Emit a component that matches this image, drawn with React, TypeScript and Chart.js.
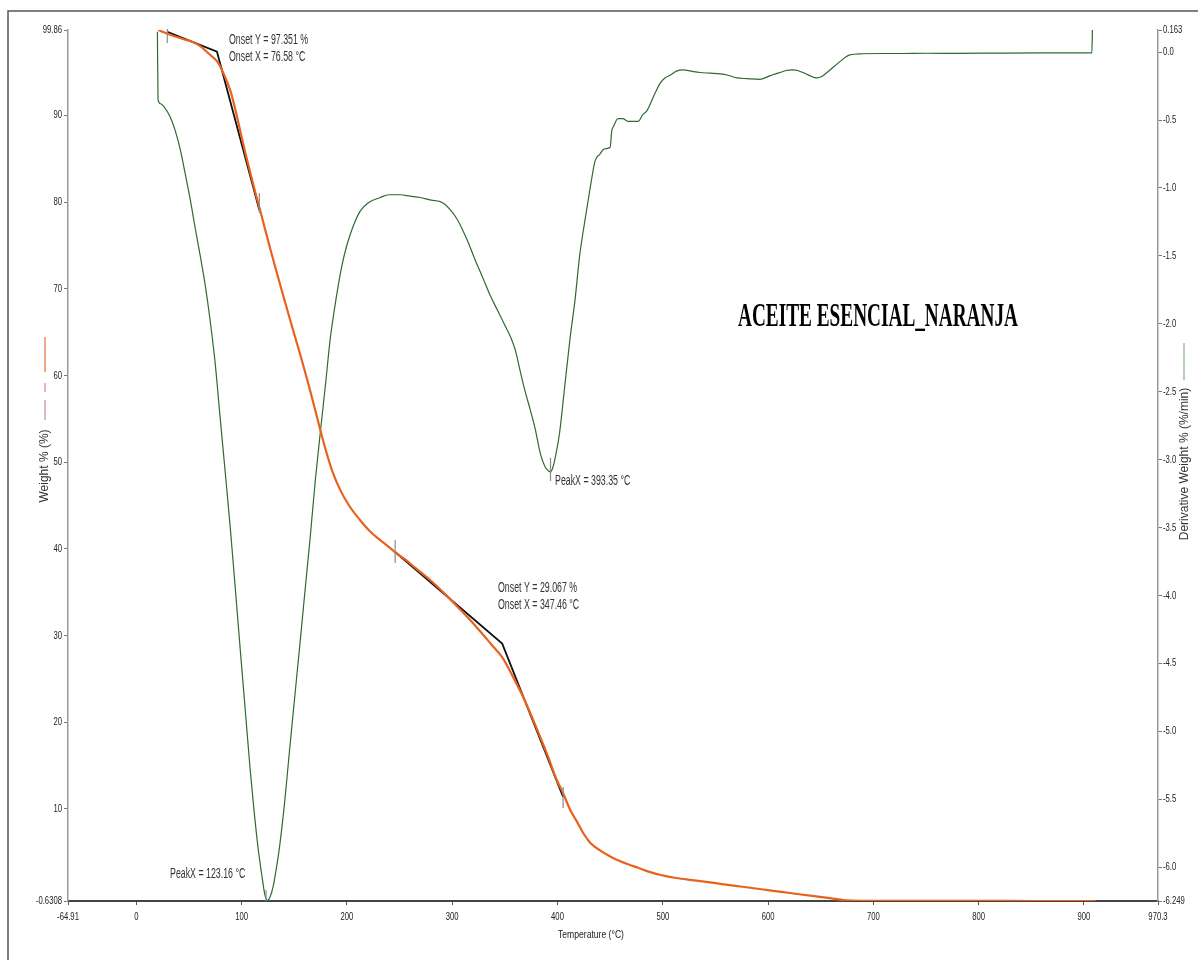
import { useEffect, useRef } from 'react';
import { Chart, registerables } from 'chart.js';

Chart.register(...registerables);

// ---- Data ----
const weightTemp = [20.9, 26, 35, 45, 55, 60.7, 68, 76.9, 83, 89.2, 94, 98.7, 103.5, 108.2, 113, 117.7, 122, 127.2, 134, 141.4, 148, 155.7, 163, 169.9, 175, 179.4, 186, 193.6, 202, 212.6, 222, 231.6, 240, 245.8, 255, 265, 279, 293, 307.5, 317, 326.5, 337, 347.4, 357, 367.4, 375, 383.5, 392, 398, 405.3, 412, 418.6, 425, 431, 440.4, 450, 458.5, 467, 476.5, 488, 498, 512.6, 530, 548.6, 567, 584.7, 603, 620.8, 640, 656.9, 665, 671, 680, 700, 750, 808, 850, 911];
const weightPct = [99.86, 99.6, 99.2, 98.8, 98.4, 98.0, 97.2, 96.2, 94.8, 92.9, 90.7, 88.2, 85.7, 83.4, 81.1, 79.0, 77.0, 74.6, 71.6, 68.4, 65.6, 62.4, 59.2, 56.0, 53.6, 51.6, 49.0, 46.8, 45.0, 43.3, 42.0, 41.0, 40.2, 39.6, 38.8, 37.8, 36.4, 34.8, 33.0, 31.8, 30.5, 29.0, 27.5, 25.4, 22.9, 20.8, 18.3, 15.7, 13.7, 11.8, 9.9, 8.5, 7.1, 6.1, 5.2, 4.5, 4.0, 3.6, 3.2, 2.7, 2.37, 2.02, 1.75, 1.45, 1.15, 0.87, 0.57, 0.29, -0.02, -0.28, -0.42, -0.52, -0.58, -0.6, -0.6, -0.6, -0.63, -0.63];

const derivTemp = [20.0, 20.6, 23.0, 26.0, 32.3, 37, 41.8, 46, 51.3, 56, 60.7, 65.5, 70, 75, 79.7, 84.5, 89.2, 94, 98.7, 103.5, 108.2, 112, 115.8, 119, 122, 124.5, 127, 130, 132.5, 136, 141, 145, 150, 155.7, 160, 165, 170, 175, 180, 184, 190, 195, 200, 206, 212.6, 220, 231.6, 240, 250.6, 260, 269.6, 280, 288.5, 293, 298, 303, 307.5, 314, 321.8, 329, 336, 343, 350, 355, 359.8, 364, 369, 374, 379, 383.5, 388, 391, 393.35, 395.5, 398, 402, 407, 412, 416.7, 421, 426, 431, 435.7, 440.4, 443, 446, 450, 451.5, 453, 457.5, 462, 467, 476.5, 481, 485, 491, 497.4, 502, 506.9, 513, 519.2, 527, 535.4, 545, 554.3, 562, 570.5, 580, 592.3, 599.9, 605, 611.3, 617, 623.6, 628, 633.1, 640, 646.4, 651, 655.9, 662, 668.2, 673, 677.7, 690, 706.2, 725, 750, 780, 820, 860, 907.5, 908];
const derivVal = [0.15, -0.35, -0.38, -0.40, -0.48, -0.58, -0.72, -0.88, -1.09, -1.30, -1.50, -1.72, -1.97, -2.30, -2.70, -3.10, -3.50, -3.95, -4.40, -4.85, -5.29, -5.60, -5.87, -6.05, -6.20, -6.245, -6.22, -6.14, -6.03, -5.85, -5.51, -5.18, -4.78, -4.33, -3.98, -3.58, -3.15, -2.78, -2.42, -2.12, -1.80, -1.58, -1.42, -1.28, -1.17, -1.11, -1.07, -1.05, -1.05, -1.06, -1.07, -1.09, -1.10, -1.12, -1.16, -1.21, -1.27, -1.38, -1.53, -1.66, -1.79, -1.90, -2.01, -2.09, -2.19, -2.33, -2.49, -2.63, -2.78, -2.95, -3.05, -3.08, -3.09, -3.06, -2.98, -2.80, -2.45, -2.10, -1.82, -1.50, -1.24, -1.00, -0.80, -0.75, -0.72, -0.71, -0.70, -0.58, -0.55, -0.49, -0.49, -0.51, -0.51, -0.46, -0.43, -0.33, -0.23, -0.19, -0.17, -0.14, -0.13, -0.14, -0.15, -0.155, -0.16, -0.17, -0.19, -0.195, -0.20, -0.18, -0.165, -0.15, -0.135, -0.13, -0.135, -0.15, -0.175, -0.19, -0.18, -0.15, -0.11, -0.07, -0.04, -0.02, -0.012, -0.01, -0.01, -0.008, -0.009, -0.007, -0.006, -0.006, 0.163];

const onset1Temp = [29.4, 76.58, 116.8];
const onset1Wt = [99.64, 97.351, 79.1];
const onset2Temp = [245.8, 347.46, 405.3];
const onset2Wt = [39.64, 29.067, 11.37];
const peakTemp = [123.16, 393.35];
const peakDeriv = [-6.249, -3.09];

const xTicks = [-64.91, 0, 100, 200, 300, 400, 500, 600, 700, 800, 900, 970.3];
const xTickLabels = ['-64.91', '0', '100', '200', '300', '400', '500', '600', '700', '800', '900', '970.3'];
const yTicks = [-0.6308, 10, 20, 30, 40, 50, 60, 70, 80, 90, 99.86];
const yTickLabels = ['-0.6308', '10', '20', '30', '40', '50', '60', '70', '80', '90', '99.86'];
const y2Ticks = [-6.249, -6.0, -5.5, -5.0, -4.5, -4.0, -3.5, -3.0, -2.5, -2.0, -1.5, -1.0, -0.5, 0.0, 0.163];
const y2TickLabels = ['-6.249', '-6.0', '-5.5', '-5.0', '-4.5', '-4.0', '-3.5', '-3.0', '-2.5', '-2.0', '-1.5', '-1.0', '-0.5', '0.0', '0.163'];

const chartTitle = 'ACEITE ESENCIAL_NARANJA';
const xTitle = 'Temperature (°C)';
const yTitle = 'Weight % (%)';
const y2Title = 'Derivative Weight % (%/min)';

const ORANGE = '#E8621E';
const GREEN = '#2f6a2f';

const toPts = (xs: number[], ys: number[]) => xs.map((x, i) => ({ x, y: ys[i] }));

function drawText(
  ctx: CanvasRenderingContext2D,
  s: string,
  x: number,
  y: number,
  font: string,
  sx: number,
  align: 'left' | 'right' | 'center',
  color: string
) {
  ctx.save();
  ctx.font = font;
  ctx.fillStyle = color;
  ctx.textBaseline = 'middle';
  ctx.textAlign = 'left';
  const w = ctx.measureText(s).width * sx;
  const left = align === 'left' ? x : align === 'right' ? x - w : x - w / 2;
  ctx.translate(left, y);
  ctx.scale(sx, 1);
  ctx.fillText(s, 0, 0);
  ctx.restore();
}

const overlayPlugin = {
  id: 'overlay',
  afterDraw(chart: any) {
    const ctx: CanvasRenderingContext2D = chart.ctx;
    const xs = chart.scales.x;
    const ys = chart.scales.y;
    const y2s = chart.scales.y2;
    const tickFont = '11px "Liberation Sans", Arial, sans-serif';
    const tickSX = 0.7;
    const tickColor = '#222';

    // outer frame (left + top)
    ctx.save();
    ctx.strokeStyle = '#555';
    ctx.lineWidth = 1.5;
    ctx.beginPath();
    ctx.moveTo(8, 970);
    ctx.lineTo(8, 11);
    ctx.lineTo(1210, 11);
    ctx.stroke();
    ctx.restore();

    // tick labels
    yTicks.forEach((v, i) => {
      drawText(ctx, yTickLabels[i], 62, ys.getPixelForValue(v), tickFont, tickSX, 'right', tickColor);
    });
    y2Ticks.forEach((v, i) => {
      drawText(ctx, y2TickLabels[i], 1163, y2s.getPixelForValue(v), tickFont, tickSX, 'left', tickColor);
    });
    xTicks.forEach((v, i) => {
      drawText(ctx, xTickLabels[i], xs.getPixelForValue(v), 917, tickFont, tickSX, 'center', tickColor);
    });

    // axis titles
    drawText(ctx, xTitle, 591, 935, '11px "Liberation Sans", Arial, sans-serif', 0.78, 'center', '#222');
    ctx.save();
    ctx.translate(45, 466);
    ctx.rotate(-Math.PI / 2);
    drawText(ctx, yTitle, 0, 0, '12px "Liberation Sans", Arial, sans-serif', 1, 'center', '#333');
    ctx.restore();
    ctx.save();
    ctx.translate(1185, 464);
    ctx.rotate(-Math.PI / 2);
    drawText(ctx, y2Title, 0, 0, '12px "Liberation Sans", Arial, sans-serif', 1, 'center', '#333');
    ctx.restore();

    // legend marks
    ctx.save();
    ctx.lineWidth = 1.5;
    ctx.strokeStyle = '#ea8a5c';
    ctx.beginPath();
    ctx.moveTo(45, 337);
    ctx.lineTo(45, 372);
    ctx.stroke();
    ctx.strokeStyle = '#d9a3a8';
    ctx.beginPath();
    ctx.moveTo(45, 383);
    ctx.lineTo(45, 392);
    ctx.moveTo(45, 400);
    ctx.lineTo(45, 420);
    ctx.stroke();
    ctx.strokeStyle = '#97c197';
    ctx.beginPath();
    ctx.moveTo(1184, 343);
    ctx.lineTo(1184, 380);
    ctx.stroke();
    ctx.restore();

    // marker ticks on onset / peak points
    const marks: [number, number, number, number][] = [
      [xs.getPixelForValue(onset1Temp[0]), ys.getPixelForValue(onset1Wt[0]), 3, 11],
      [xs.getPixelForValue(onset1Temp[2]), ys.getPixelForValue(onset1Wt[2]), 17, 3],
      [xs.getPixelForValue(onset2Temp[0]), ys.getPixelForValue(onset2Wt[0]), 12, 11],
      [xs.getPixelForValue(onset2Temp[2]), ys.getPixelForValue(onset2Wt[2]), 10, 11],
      [xs.getPixelForValue(peakTemp[0]), y2s.getPixelForValue(peakDeriv[0]), 11, 0],
      [xs.getPixelForValue(peakTemp[1]), y2s.getPixelForValue(peakDeriv[1]), 14, 9],
    ];
    ctx.save();
    ctx.strokeStyle = '#8a8a8a';
    ctx.lineWidth = 1.2;
    marks.forEach(([px, py, up, down]) => {
      ctx.beginPath();
      ctx.moveTo(px, py - up);
      ctx.lineTo(px, py + down);
      ctx.stroke();
    });
    ctx.restore();

    // annotations
    const aFont = '14px "Liberation Sans", Arial, sans-serif';
    const aSX = 0.63;
    const aCol = '#333';
    drawText(ctx, `Onset Y = ${onset1Wt[1].toFixed(3)} %`, 229, 40, aFont, aSX, 'left', aCol);
    drawText(ctx, `Onset X = ${onset1Temp[1].toFixed(2)} °C`, 229, 57, aFont, aSX, 'left', aCol);
    drawText(ctx, `Onset Y = ${onset2Wt[1].toFixed(3)} %`, 498, 588, aFont, aSX, 'left', aCol);
    drawText(ctx, `Onset X = ${onset2Temp[1].toFixed(2)} °C`, 498, 605, aFont, aSX, 'left', aCol);
    drawText(ctx, `PeakX = ${peakTemp[1].toFixed(2)} °C`, 555, 481, aFont, aSX, 'left', aCol);
    drawText(ctx, `PeakX = ${peakTemp[0].toFixed(2)} °C`, 170, 874, aFont, aSX, 'left', aCol);

    // title
    ctx.save();
    ctx.font = 'bold 33px "Liberation Serif", "Times New Roman", serif';
    const tw = ctx.measureText(chartTitle).width;
    ctx.fillStyle = '#000';
    ctx.textBaseline = 'alphabetic';
    ctx.translate(738, 326);
    ctx.scale(280 / tw, 1);
    ctx.fillText(chartTitle, 0, 0);
    ctx.restore();
  },
};

export default function App() {
  const canvasRef = useRef<HTMLCanvasElement | null>(null);

  useEffect(() => {
    const canvas = canvasRef.current;
    if (!canvas) return;
    const chart = new Chart(canvas, {
      type: 'line',
      data: {
        datasets: [
          {
            label: 'Weight %',
            data: toPts(weightTemp, weightPct),
            yAxisID: 'y',
            borderColor: ORANGE,
            borderWidth: 2.2,
            pointRadius: 0,
            cubicInterpolationMode: 'monotone',
            fill: false,
          },
          {
            label: 'Derivative Weight %',
            data: toPts(derivTemp, derivVal),
            yAxisID: 'y2',
            borderColor: GREEN,
            borderWidth: 1.2,
            pointRadius: 0,
            cubicInterpolationMode: 'monotone',
            fill: false,
          },
          {
            label: 'Onset 1',
            data: toPts(onset1Temp, onset1Wt),
            yAxisID: 'y',
            borderColor: '#111',
            borderWidth: 1.8,
            pointRadius: 0,
            tension: 0,
            fill: false,
          },
          {
            label: 'Onset 2',
            data: toPts(onset2Temp, onset2Wt),
            yAxisID: 'y',
            borderColor: '#111',
            borderWidth: 1.8,
            pointRadius: 0,
            tension: 0,
            fill: false,
          },
        ],
      },
      options: {
        responsive: false,
        animation: false,
        devicePixelRatio: 1,
        layout: { padding: { top: 30, left: 0, right: 0, bottom: 0 } },
        plugins: {
          legend: { display: false },
          title: { display: false },
          tooltip: { enabled: false },
        },
        scales: {
          x: {
            type: 'linear',
            position: 'bottom',
            min: -64.91,
            max: 970.3,
            afterBuildTicks: (s: any) => {
              s.ticks = xTicks.map((v) => ({ value: v }));
            },
            afterFit: (s: any) => {
              s.height = 59;
            },
            ticks: { display: false },
            grid: { display: true, drawOnChartArea: false, drawTicks: true, tickLength: 4, color: '#555', lineWidth: 1 },
            border: { display: true, color: '#444', width: 2 },
          },
          y: {
            type: 'linear',
            position: 'left',
            min: -0.6308,
            max: 99.86,
            afterBuildTicks: (s: any) => {
              s.ticks = yTicks.map((v) => ({ value: v }));
            },
            afterFit: (s: any) => {
              s.width = 68;
            },
            ticks: { display: false },
            grid: { display: true, drawOnChartArea: false, drawTicks: true, tickLength: 4, color: '#777', lineWidth: 1 },
            border: { display: true, color: '#999', width: 1.5 },
          },
          y2: {
            type: 'linear',
            position: 'right',
            min: -6.249,
            max: 0.163,
            afterBuildTicks: (s: any) => {
              s.ticks = y2Ticks.map((v) => ({ value: v }));
            },
            afterFit: (s: any) => {
              s.width = 40;
            },
            ticks: { display: false },
            grid: { display: true, drawOnChartArea: false, drawTicks: true, tickLength: 4, color: '#777', lineWidth: 1 },
            border: { display: true, color: '#999', width: 1.5 },
          },
        },
      } as any,
      plugins: [overlayPlugin],
    });
    return () => chart.destroy();
  }, []);

  return (
    <div style={{ position: 'fixed', left: 0, top: 0, width: 1198, height: 960, background: '#fff' }}>
      <canvas ref={canvasRef} width={1198} height={960} style={{ width: 1198, height: 960, display: 'block' }} />
    </div>
  );
}
